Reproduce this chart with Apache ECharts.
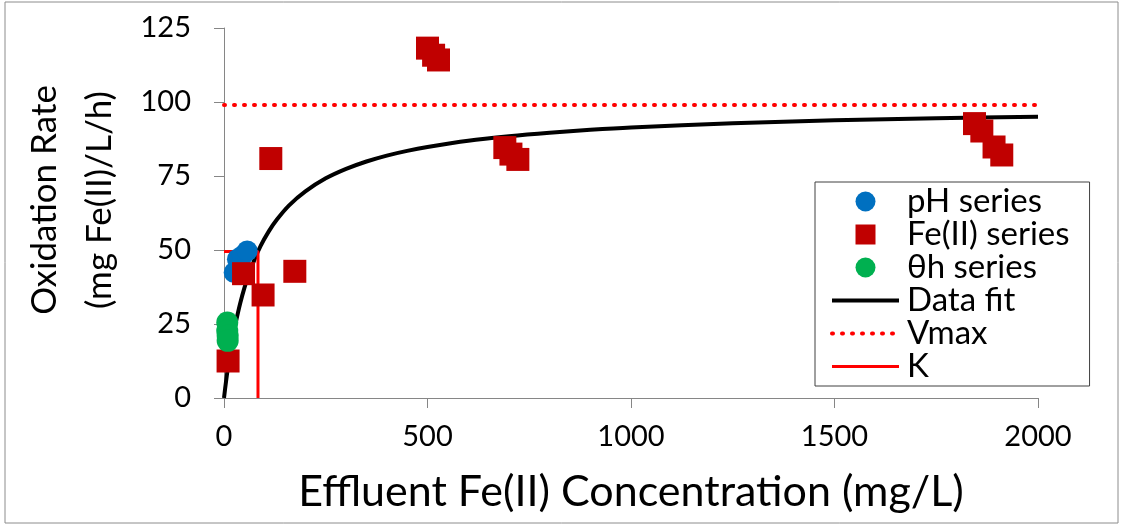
<!DOCTYPE html>
<html>
<head>
<meta charset="utf-8">
<script src="https://cdn.jsdelivr.net/npm/echarts@6/dist/echarts.min.js"></script>
<style>
  html, body { margin: 0; padding: 0; background: #fff; }
  #chart { width: 1125px; height: 527px; }
</style>
</head>
<body>
<div id="chart"></div>
<script>
// values
const xTicks = [0, 500, 1000, 1500, 2000]
const yTicks = [0, 25, 50, 75, 100, 125]

const phSeries = [[25, 42.4], [33, 46.9], [45, 48], [57, 49.7]]
const feSeries = [
  [10, 12.5], [48, 42], [96, 34.8], [174, 42.8], [115, 80.9],
  [500, 118.2], [515, 115.8], [527, 114.2],
  [690, 84.6], [705, 82.4], [722, 80.6],
  [1844, 92.7], [1862, 90.2], [1892, 84.8], [1911, 82.1]
]
const thetaSeries = [[8, 25.5], [8, 22.7], [9, 21], [9, 19.3]]

const fitConc = [0, 5, 10, 15, 20, 25, 30, 40, 50, 60, 75, 90, 110, 130, 160, 200, 250, 300, 350, 400, 450, 500, 600, 700, 800, 900, 1000, 1250, 1500, 1750, 2000]
const fitRate = [0, 5.6, 10.6, 15.1, 19.1, 22.8, 26.2, 32.1, 37.1, 41.4, 46.8, 51.4, 56.3, 60.3, 65.1, 69.8, 74.2, 77.4, 79.9, 81.9, 83.5, 84.8, 86.9, 88.4, 89.6, 90.6, 91.4, 92.8, 93.8, 94.5, 95.0]

const vmax = 99
const kConc = 83.5
const halfV = 49.5

const fitData = fitConc.map((c, i) => [c, fitRate[i]])
const vmaxData = [[0, vmax], [2000, vmax]]
const kData = [[0, halfV], [kConc, halfV], [kConc, 0]]

const font = 'Lato'
const axisGray = '#868686'
const squareIcon = 'path://M0 0h10v10h-10z'
const noMarker = { opacity: 0 }

const myChart = echarts.init(document.getElementById('chart'))
const option = {
  animation: false,
  textStyle: { fontFamily: font },
  graphic: [
    {
      type: 'rect',
      shape: { x: 5, y: 2, width: 1113, height: 521 },
      style: { fill: 'none', stroke: '#8c8c8c', lineWidth: 1 },
      silent: true
    }
  ],
  grid: {
    left: 224,
    right: 87,
    top: 28,
    bottom: 129
  },
  legend: {
    orient: 'vertical',
    left: 815,
    top: 182,
    padding: [3, 20, 3, 15],
    itemWidth: 67,
    itemHeight: 20,
    itemGap: 0,
    backgroundColor: '#fff',
    borderColor: '#404040',
    borderWidth: 1,
    textStyle: {
      fontFamily: font,
      fontSize: 33,
      lineHeight: 30,
      color: '#000',
      padding: [0, 0, 0, 3]
    },
    data: [
      { name: 'pH series', icon: 'circle' },
      { name: 'Fe(II) series', icon: squareIcon },
      { name: 'θh series', icon: 'circle' },
      { name: 'Data fit', itemStyle: noMarker, lineStyle: { width: 4 } },
      { name: 'Vmax', itemStyle: noMarker, lineStyle: { width: 4, type: [1, 9], cap: 'round' } },
      { name: 'K', itemStyle: noMarker, lineStyle: { width: 3 } }
    ]
  },
  xAxis: {
    type: 'value',
    min: 0,
    max: 2000,
    interval: 500,
    name: 'Effluent Fe(II) Concentration (mg/L)',
    nameLocation: 'middle',
    nameGap: 73,
    nameTextStyle: { fontFamily: font, fontSize: 43, color: '#000' },
    axisLine: { show: true, lineStyle: { color: axisGray, width: 1 } },
    axisTick: { show: true, length: 10, lineStyle: { color: axisGray } },
    axisLabel: {
      fontFamily: font,
      fontSize: 29,
      color: '#000',
      margin: 24,
      formatter: (v) => (xTicks.indexOf(v) >= 0 ? String(v) : '')
    },
    splitLine: { show: false }
  },
  yAxis: {
    type: 'value',
    min: 0,
    max: 125,
    interval: 25,
    name: 'Oxidation Rate\n(mg Fe(II)/L/h)',
    nameLocation: 'middle',
    nameRotate: 90,
    nameGap: 97,
    nameTextStyle: {
      fontFamily: font,
      fontSize: 35,
      color: '#000',
      lineHeight: 55,
      padding: [0, 0, 0, 26]
    },
    axisLine: { show: true, lineStyle: { color: axisGray, width: 1 } },
    axisTick: { show: true, length: 10, lineStyle: { color: axisGray } },
    axisLabel: {
      fontFamily: font,
      fontSize: 29,
      color: '#000',
      margin: 33,
      formatter: (v) => (yTicks.indexOf(v) >= 0 ? String(v) : '')
    },
    splitLine: { show: false }
  },
  series: [
    {
      name: 'Data fit',
      type: 'line',
      data: fitData,
      symbol: 'none',
      smooth: 0.3,
      z: 2,
      lineStyle: { color: '#000', width: 4 },
      itemStyle: { color: '#000' }
    },
    {
      name: 'Vmax',
      type: 'line',
      data: vmaxData,
      symbol: 'none',
      z: 2,
      lineStyle: { color: '#ff0000', width: 4, type: [1, 9], cap: 'round' },
      itemStyle: { color: '#ff0000' }
    },
    {
      name: 'K',
      type: 'line',
      data: kData,
      symbol: 'none',
      z: 2,
      lineStyle: { color: '#ff0000', width: 3 },
      itemStyle: { color: '#ff0000' }
    },
    {
      name: 'pH series',
      type: 'scatter',
      data: phSeries,
      symbol: 'circle',
      symbolSize: 21,
      z: 3,
      itemStyle: { color: '#0070c0', opacity: 1 }
    },
    {
      name: 'Fe(II) series',
      type: 'scatter',
      data: feSeries,
      symbol: 'rect',
      symbolSize: 23,
      z: 4,
      itemStyle: { color: '#c00000', opacity: 1 }
    },
    {
      name: 'θh series',
      type: 'scatter',
      data: thetaSeries,
      symbol: 'circle',
      symbolSize: 22,
      z: 5,
      itemStyle: { color: '#00b050', opacity: 1 }
    }
  ]
}
myChart.setOption(option)
window.onresize = myChart.resize
</script>
</body>
</html>
